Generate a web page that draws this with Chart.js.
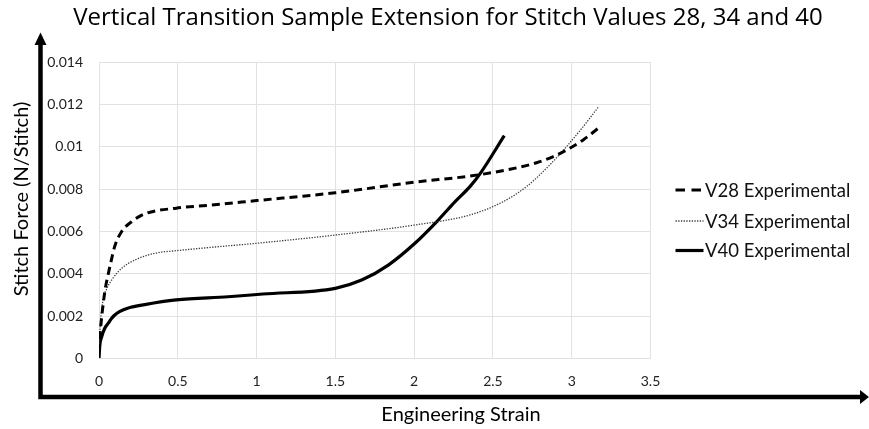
<!DOCTYPE html>
<html>
<head>
<meta charset="utf-8">
<title>Vertical Transition Sample Extension</title>
<script src="https://cdn.jsdelivr.net/npm/chart.js@4/dist/chart.umd.min.js"></script>
<style>
  html, body { margin: 0; padding: 0; background: #ffffff; }
  #wrap { width: 869px; height: 429px; position: relative; }
</style>
</head>
<body>
<div id="wrap"><canvas id="chart" width="869" height="429"></canvas></div>
<script>
// Engineering strain (x) against stitch force in N/stitch (y)
const v28Strain = [0.003, 0.015, 0.027, 0.04, 0.059, 0.08, 0.10, 0.144, 0.207, 0.29, 0.49, 0.715, 1.0, 1.5, 2.0, 2.354, 2.608, 2.777, 2.883, 2.967, 3.073, 3.168];
const v28Force  = [0.0009, 0.0018, 0.0026, 0.0033, 0.0040, 0.0047, 0.0053, 0.0060, 0.00646, 0.00683, 0.00710, 0.00725, 0.00746, 0.00783, 0.00833, 0.00862, 0.00894, 0.00925, 0.00954, 0.00985, 0.01033, 0.01088];

const v34Strain = [0.002, 0.008, 0.027, 0.05, 0.08, 0.144, 0.228, 0.355, 0.49, 0.715, 1.0, 1.5, 2.0, 2.354, 2.565, 2.713, 2.84, 2.967, 3.073, 3.168];
const v34Force  = [0.0007, 0.0016, 0.0028, 0.0033, 0.0037, 0.00426, 0.00465, 0.00497, 0.00509, 0.00525, 0.00544, 0.00583, 0.00630, 0.00678, 0.00741, 0.00812, 0.00899, 0.01001, 0.01096, 0.01187];

const v40Strain = [0.0, 0.005, 0.017, 0.035, 0.059, 0.078, 0.10, 0.13, 0.186, 0.29, 0.49, 0.82, 1.04, 1.5, 1.667, 1.836, 2.005, 2.153, 2.26, 2.354, 2.42, 2.572];
const v40Force  = [0.0, 0.0006, 0.00102, 0.0014, 0.00166, 0.00187, 0.00205, 0.00221, 0.00238, 0.00254, 0.00276, 0.00291, 0.00304, 0.00331, 0.0037, 0.00441, 0.00544, 0.00654, 0.00741, 0.00812, 0.00875, 0.01053];

const seriesNames = ['V28 Experimental', 'V34 Experimental', 'V40 Experimental'];
const xTickLabels = ['0', '0.5', '1', '1.5', '2', '2.5', '3', '3.5'];
const yTickLabels = ['0', '0.002', '0.004', '0.006', '0.008', '0.01', '0.012', '0.014'];

const chartTitle = 'Vertical Transition Sample Extension for Stitch Values 28, 34 and 40';
const xTitle = 'Engineering Strain';
const yTitle = 'Stitch Force (N/Stitch)';

const FONT = 'Lato, "Open Sans", sans-serif';
const TITLE_FONT = '"Open Sans", Lato, sans-serif';

function toPoints(xs, ys) {
  return xs.map((x, i) => ({ x: x, y: ys[i] }));
}

// Title, axis titles, legend and the arrowed frame around the plot
const decorations = {
  id: 'decorations',
  afterDraw(chart) {
    const ctx = chart.ctx;
    ctx.save();

    // arrowed axes
    ctx.fillStyle = '#000';
    ctx.strokeStyle = '#000';
    ctx.lineWidth = 4.5;
    ctx.lineCap = 'butt';
    ctx.beginPath();
    ctx.moveTo(40.5, 399);
    ctx.lineTo(40.5, 44);
    ctx.moveTo(38.3, 397);
    ctx.lineTo(861, 397);
    ctx.stroke();
    ctx.beginPath();
    ctx.moveTo(40.5, 32.5);
    ctx.lineTo(46.5, 45);
    ctx.lineTo(34.5, 45);
    ctx.closePath();
    ctx.fill();
    ctx.beginPath();
    ctx.moveTo(869, 397);
    ctx.lineTo(860, 390);
    ctx.lineTo(860, 404);
    ctx.closePath();
    ctx.fill();

    // chart title
    ctx.fillStyle = '#000';
    ctx.textAlign = 'center';
    ctx.textBaseline = 'alphabetic';
    ctx.font = '24px ' + TITLE_FONT;
    ctx.fillText(chartTitle, 448, 25);

    // x axis title
    ctx.font = '20px ' + FONT;
    ctx.fillText(xTitle, 461, 421);

    // y axis title
    ctx.save();
    ctx.translate(27.5, 199);
    ctx.rotate(-Math.PI / 2);
    ctx.fillText(yTitle, 0, 0);
    ctx.restore();

    // legend
    const rows = [190, 221, 250.5];
    const ends = [701, 703.5, 703.5];
    ctx.textAlign = 'left';
    ctx.textBaseline = 'middle';
    ctx.font = '18.5px ' + FONT;
    chart.data.datasets.forEach((ds, i) => {
      const y = rows[i];
      ctx.save();
      ctx.strokeStyle = ds.borderColor;
      ctx.lineWidth = ds.borderWidth;
      ctx.setLineDash(ds.legendDash || []);
      ctx.beginPath();
      ctx.moveTo(675.5, y);
      ctx.lineTo(ends[i], y);
      ctx.stroke();
      ctx.restore();
      ctx.fillStyle = '#111';
      ctx.fillText(ds.label, 705, y + 1);
    });

    ctx.restore();
  }
};

const ctx = document.getElementById('chart').getContext('2d');
new Chart(ctx, {
  type: 'scatter',
  data: {
    datasets: [
      {
        label: seriesNames[0],
        data: toPoints(v28Strain, v28Force),
        showLine: true,
        borderColor: '#000000',
        borderWidth: 3,
        borderDash: [8, 5],
        legendDash: [9.5, 6.5],
        pointRadius: 0,
        cubicInterpolationMode: 'monotone'
      },
      {
        label: seriesNames[1],
        data: toPoints(v34Strain, v34Force),
        showLine: true,
        borderColor: '#3a3a3a',
        borderWidth: 1.3,
        borderDash: [1.3, 1.4],
        legendDash: [1.3, 1.4],
        pointRadius: 0,
        cubicInterpolationMode: 'monotone'
      },
      {
        label: seriesNames[2],
        data: toPoints(v40Strain, v40Force),
        showLine: true,
        borderColor: '#000000',
        borderWidth: 3.2,
        borderDash: [],
        pointRadius: 0,
        cubicInterpolationMode: 'monotone'
      }
    ]
  },
  options: {
    responsive: false,
    animation: false,
    layout: { padding: { left: 0, right: 218.5, top: 62.3, bottom: 0 } },
    plugins: {
      legend: { display: false },
      title: { display: false },
      tooltip: { enabled: false }
    },
    scales: {
      x: {
        type: 'linear',
        min: 0,
        max: 3.5,
        afterFit: (scale) => { scale.height = 429 - 358.3; },
        afterBuildTicks: (scale) => {
          scale.ticks = xTickLabels.map((t) => ({ value: parseFloat(t) }));
        },
        ticks: {
          padding: 15,
          color: '#222',
          font: { family: FONT, size: 14 },
          maxRotation: 0,
          callback: (v, i) => xTickLabels[i]
        },
        grid: { color: '#e2e2e2', lineWidth: 1, drawTicks: false },
        border: { display: true, color: '#e2e2e2', width: 1 }
      },
      y: {
        type: 'linear',
        min: 0,
        max: 0.014,
        afterFit: (scale) => { scale.width = 99; },
        afterBuildTicks: (scale) => {
          scale.ticks = yTickLabels.map((t) => ({ value: parseFloat(t) }));
        },
        ticks: {
          padding: 16,
          color: '#222',
          font: { family: FONT, size: 14 },
          callback: (v, i) => yTickLabels[i]
        },
        grid: { color: '#e2e2e2', lineWidth: 1, drawTicks: false },
        border: { display: true, color: '#e2e2e2', width: 1 }
      }
    }
  },
  plugins: [decorations]
});
</script>
</body>
</html>
